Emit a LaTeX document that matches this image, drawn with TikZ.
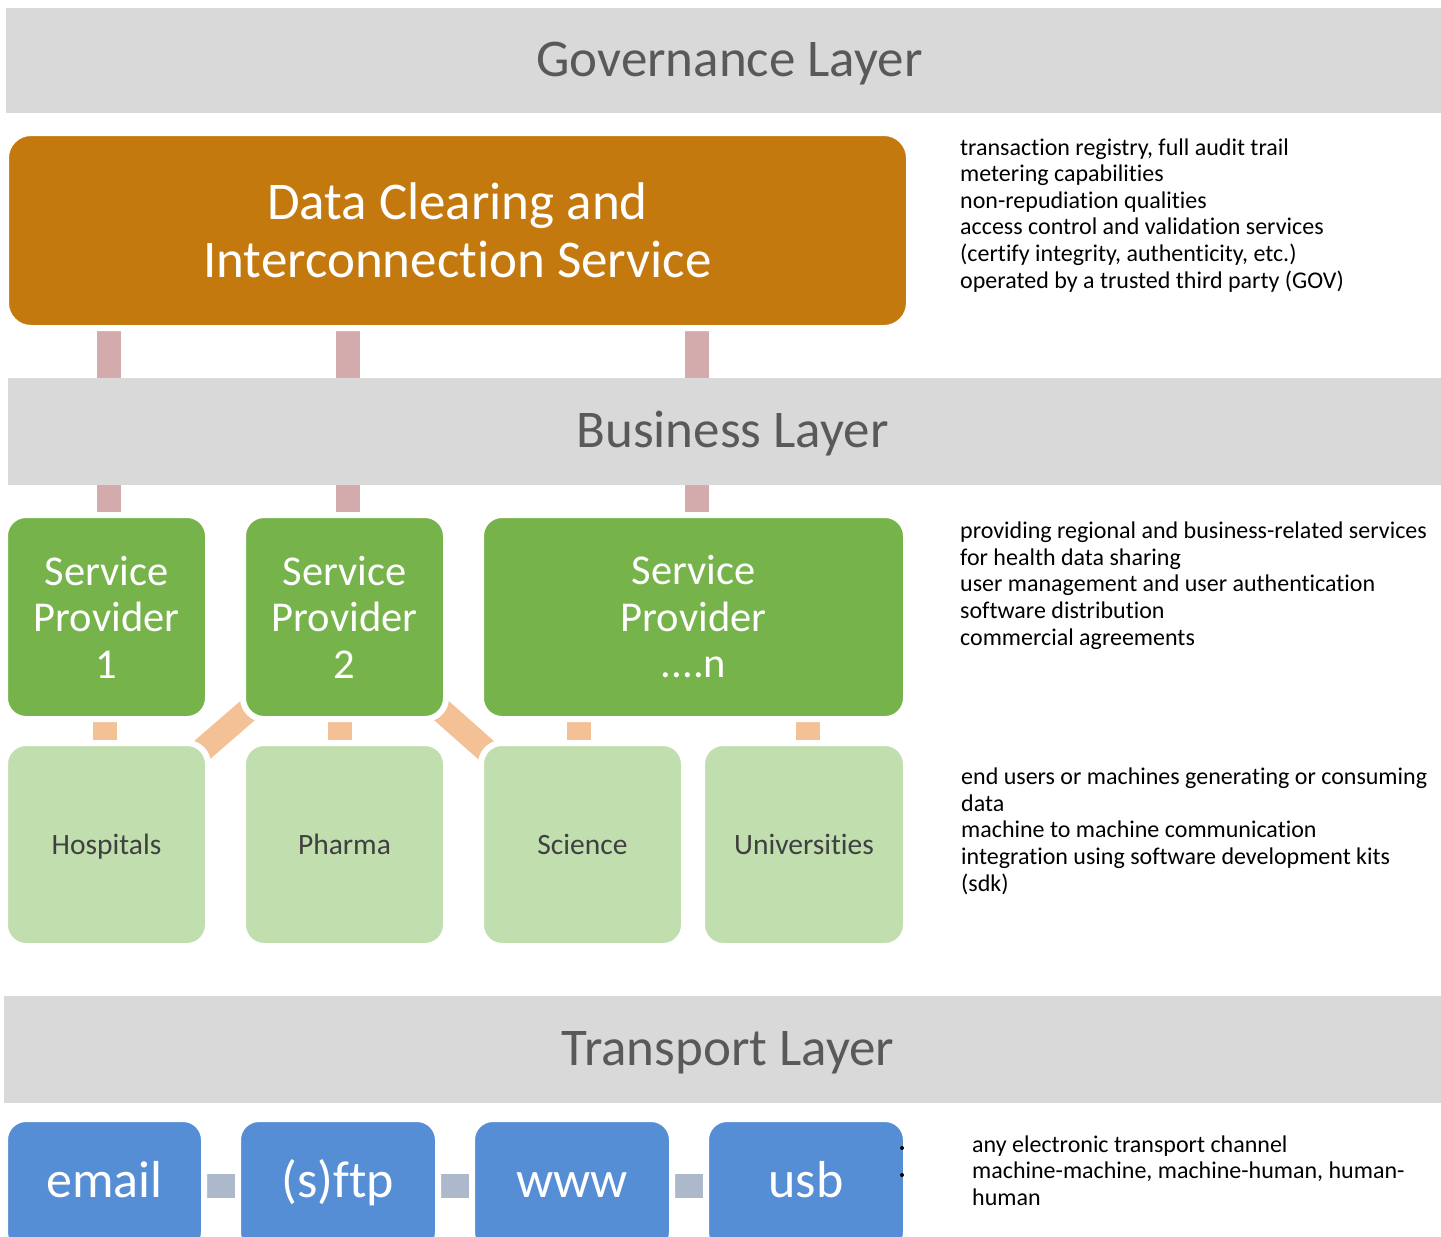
\documentclass[tikz,border=0pt]{standalone}
\usepackage{fontspec}
\setmainfont{Carlito}[Ligatures=CommonOff]
\pgfdeclarelayer{bg}
\pgfsetlayers{bg,main}
\definecolor{bandgray}{HTML}{D9D9D9}
\definecolor{txtgray}{HTML}{595959}
\definecolor{dcorange}{HTML}{C4790F}
\definecolor{spgreen}{HTML}{76B34B}
\definecolor{eugreen}{HTML}{C1DEAE}
\definecolor{eutext}{HTML}{404040}
\definecolor{tblue}{HTML}{568ED5}
\definecolor{pinkc}{HTML}{D4ABAC}
\definecolor{peachc}{HTML}{F4C197}
\definecolor{grayblue}{HTML}{ADB9CA}
\begin{document}
\begin{tikzpicture}[x=1pt,y=-1pt,
  band/.style={fill=bandgray, inner sep=0pt, outer sep=0pt, anchor=north west, text=txtgray,
    font=\fontsize{53}{60}\selectfont, text height=36pt, text depth=5pt},
  box/.style={draw=white, line width=6pt, outer sep=0pt, rounded corners=21pt, inner sep=0pt, anchor=north west, align=center},
  dcbox/.style={box, fill=dcorange, rounded corners=25pt, text=white, font=\fontsize{53}{58}\selectfont},
  spbox/.style={box, fill=spgreen, text=white, font=\fontsize{42.5}{46.5}\selectfont, minimum height=204pt},
  eubox/.style={box, fill=eugreen, text=eutext, font=\fontsize{29.5}{34}\selectfont, minimum height=203pt, text height=22pt, text depth=2.4pt},
  trbox/.style={box, fill=tblue, text=white, font=\fontsize{52}{60}\selectfont, minimum height=134pt, text height=33pt, text depth=11pt},
  note/.style={anchor=base west, align=left, inner sep=0pt, font=\fontsize{24}{26.6}\selectfont},
  conn/.style={line width=24pt},
  diag/.style={line width=24pt, color=peachc, shorten >=-14pt, shorten <=-14pt}
]
\clip (0,0) rectangle (1441,1237);
\useasboundingbox (0,0) rectangle (1441,1237);

% layer bands
\node[band, minimum width=1435pt, minimum height=105pt] (gov) at (6,8) {\hspace*{12pt}Governance Layer};
\node[band, minimum width=1433pt, minimum height=107pt] (bus) at (8,378) {\hspace*{16pt}Business Layer};
\node[band, minimum width=1437pt, minimum height=107pt] (tra) at (4,996) {\hspace*{11pt}Transport Layer};

% data clearing
\node[dcbox, minimum width=903pt, minimum height=195pt] (dc) at (6,133) {Data Clearing and\\Interconnection Service};

% service providers
\node[spbox, minimum width=203pt] (sp1) at (5,515) {Service\\Provider\\1};
\node[spbox, minimum width=203pt] (sp2) at (243,515) {Service\\Provider\\2};
\node[spbox, minimum width=425pt] (spn) at (481,515) {Service\\Provider\\....n};

% end users
\node[eubox, minimum width=203pt] (hosp) at (5,743) {Hospitals};
\node[eubox, minimum width=203pt] (pharma) at (243,743) {Pharma};
\node[eubox, minimum width=203pt] (sci) at (481,743) {Science};
\node[eubox, minimum width=204pt] (univ) at (702,743) {Universities};

% transport
\node[trbox, minimum width=199pt] (email) at (5,1119) {email};
\node[trbox, minimum width=200pt] (ftp) at (238,1119) {(s)ftp};
\node[trbox, minimum width=200pt] (www) at (472,1119) {www};
\node[trbox, minimum width=200pt] (usb) at (706,1119) {usb};

% connectors (background)
\begin{pgfonlayer}{bg}
\fill[white] (0,0) rectangle (1441,1237);
\draw[conn, pinkc] ([xshift=2.5pt]sp1.north |- dc.south) -- ([xshift=2.5pt]sp1.north);
\draw[conn, pinkc] ([xshift=3.5pt]sp2.north |- dc.south) -- ([xshift=3.5pt]sp2.north);
\draw[conn, pinkc] ([xshift=3.5pt]spn.north |- dc.south) -- ([xshift=3.5pt]spn.north);
\draw[conn, peachc] ([xshift=-1.5pt]sp1.south) -- ([xshift=-1.5pt]hosp.north);
\draw[conn, peachc] ([xshift=-4.5pt]sp2.south) -- ([xshift=-4.5pt]pharma.north);
\draw[conn, peachc] ([xshift=-3.5pt]sci.north |- spn.south) -- ([xshift=-3.5pt]sci.north);
\draw[conn, peachc] ([xshift=4pt]univ.north |- spn.south) -- ([xshift=4pt]univ.north);
\draw[diag] ([shift={(3,-7)}]sp2.south west) -- ([shift={(-7,8)}]hosp.north east);
\draw[diag] ([shift={(-3,-7)}]sp2.south east) -- ([shift={(6,8)}]sci.north west);
\draw[conn, grayblue] (email.east) -- (ftp.west);
\draw[conn, grayblue] (ftp.east) -- (www.west);
\draw[conn, grayblue] (www.east) -- (usb.west);
\end{pgfonlayer}

% bullets
\fill[black] (902,1148) circle (2pt);
\fill[black] (902,1175) circle (2pt);

% notes (anchored at the baseline of the last line)
\node[note] (n1) at (960,288) {transaction registry, full audit trail\\metering capabilities\\non-repudiation qualities\\access control and validation services\\(certify integrity, authenticity, etc.)\\operated by a trusted third party (GOV)};
\node[note] (n2) at (960,645) {providing regional and business-related services\\for health data sharing\\user management and user authentication\\software distribution\\commercial agreements};
\node[note] (n3) at (961,891) {end users or machines generating or consuming\\data\\machine to machine communication\\integration using software development kits\\(sdk)};
\node[note] (n4) at (972,1205.5) {any electronic transport channel\\machine-machine, machine-human, human-\\human};
\end{tikzpicture}
\end{document}
